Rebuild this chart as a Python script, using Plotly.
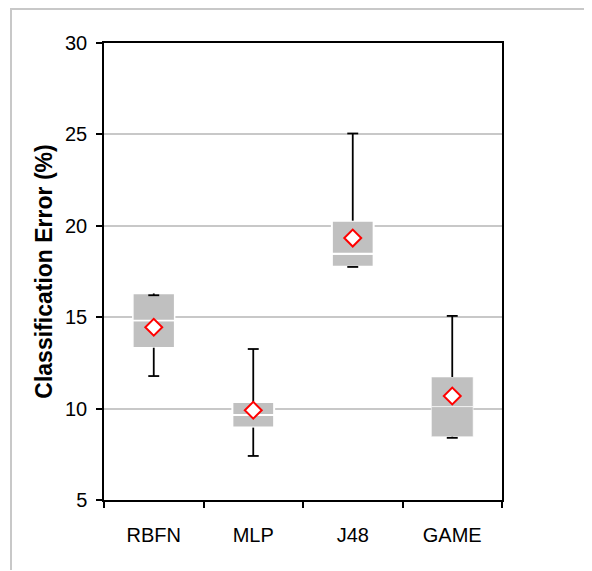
import plotly.graph_objects as go

categories = ["RBFN", "MLP", "J48", "GAME"]
q1 = [13.33, 8.96, 17.76, 8.46]
median = [14.82, 9.65, 18.47, 10.11]
q3 = [16.30, 10.36, 20.28, 11.73]
wmin = [11.78, 7.41, 17.75, 8.40]
wmax = [16.20, 13.26, 25.05, 15.07]
mean = [14.45, 9.91, 19.33, 10.69]
y_ticks = [5, 10, 15, 20, 25, 30]

pos = list(range(len(categories)))
cap = 0.055

fig = go.Figure()

fig.add_trace(go.Bar(
    x=pos, base=q1, y=[m - a for m, a in zip(median, q1)], width=0.42,
    marker=dict(color="#C0C0C0", line=dict(color="white", width=[1.5, 2, 2, 0.6])),
    hoverinfo="skip", showlegend=False))
fig.add_trace(go.Bar(
    x=pos, base=median, y=[b - m for b, m in zip(q3, median)], width=0.42,
    marker=dict(color="#C0C0C0", line=dict(color="white", width=[1.5, 2, 2, 0.6])),
    hoverinfo="skip", showlegend=False))

wx, wy = [], []
for i in pos:
    wx += [i, i, None, i, i, None]
    wy += [q3[i], wmax[i], None, q1[i], wmin[i], None]
    wx += [i - cap, i + cap, None, i - cap, i + cap, None]
    wy += [wmax[i], wmax[i], None, wmin[i], wmin[i], None]
fig.add_trace(go.Scatter(x=wx, y=wy, mode="lines",
                         line=dict(color="black", width=1.8),
                         hoverinfo="skip", showlegend=False))

fig.add_trace(go.Scatter(x=pos, y=mean, mode="markers",
                         marker=dict(symbol="diamond", size=13, color="white",
                                     line=dict(color="#FF0000", width=2)),
                         showlegend=False))

font = dict(family="Arial, Liberation Sans, sans-serif", size=20, color="black")

bx0 = (11 - 104) / 398
bx1 = (591 - 104) / 398
by0 = (500 - 570) / 457
by1 = (500 - 9) / 457

fig.update_layout(
    width=584, height=563,
    margin=dict(l=96, r=90, t=35, b=71),
    paper_bgcolor="white", plot_bgcolor="white",
    barmode="overlay",
    font=font,
    xaxis=dict(range=[-0.5, 3.5], tickvals=pos, ticktext=categories,
               ticks="", showgrid=False, zeroline=False,
               showline=True, mirror=True, linecolor="black", linewidth=1.5,
               ticklabelstandoff=16,
               minor=dict(tickvals=[-0.5, 0.5, 1.5, 2.5, 3.5], ticks="outside",
                          ticklen=6, tickcolor="black", tickwidth=1.5, showgrid=False)),
    yaxis=dict(range=[5, 30], tickvals=y_ticks, ticks="outside", ticklen=6,
               tickcolor="black", tickwidth=1.5,
               showgrid=True, gridcolor="#C8C8C8", gridwidth=1.5, zeroline=False,
               showline=True, mirror=True, linecolor="black", linewidth=1.5,
               ticklabelstandoff=5,
               title=dict(text="<b>Classification Error (%)</b>", standoff=6,
                          font=dict(family="Arial, Liberation Sans, sans-serif", size=23))),
    shapes=[dict(type="path", xref="paper", yref="paper",
                 path=f"M {bx0},{by0} L {bx0},{by1} L {bx1},{by1}",
                 line=dict(color="#C8C8C8", width=2), layer="below")],
)

fig.write_html("out.html")
